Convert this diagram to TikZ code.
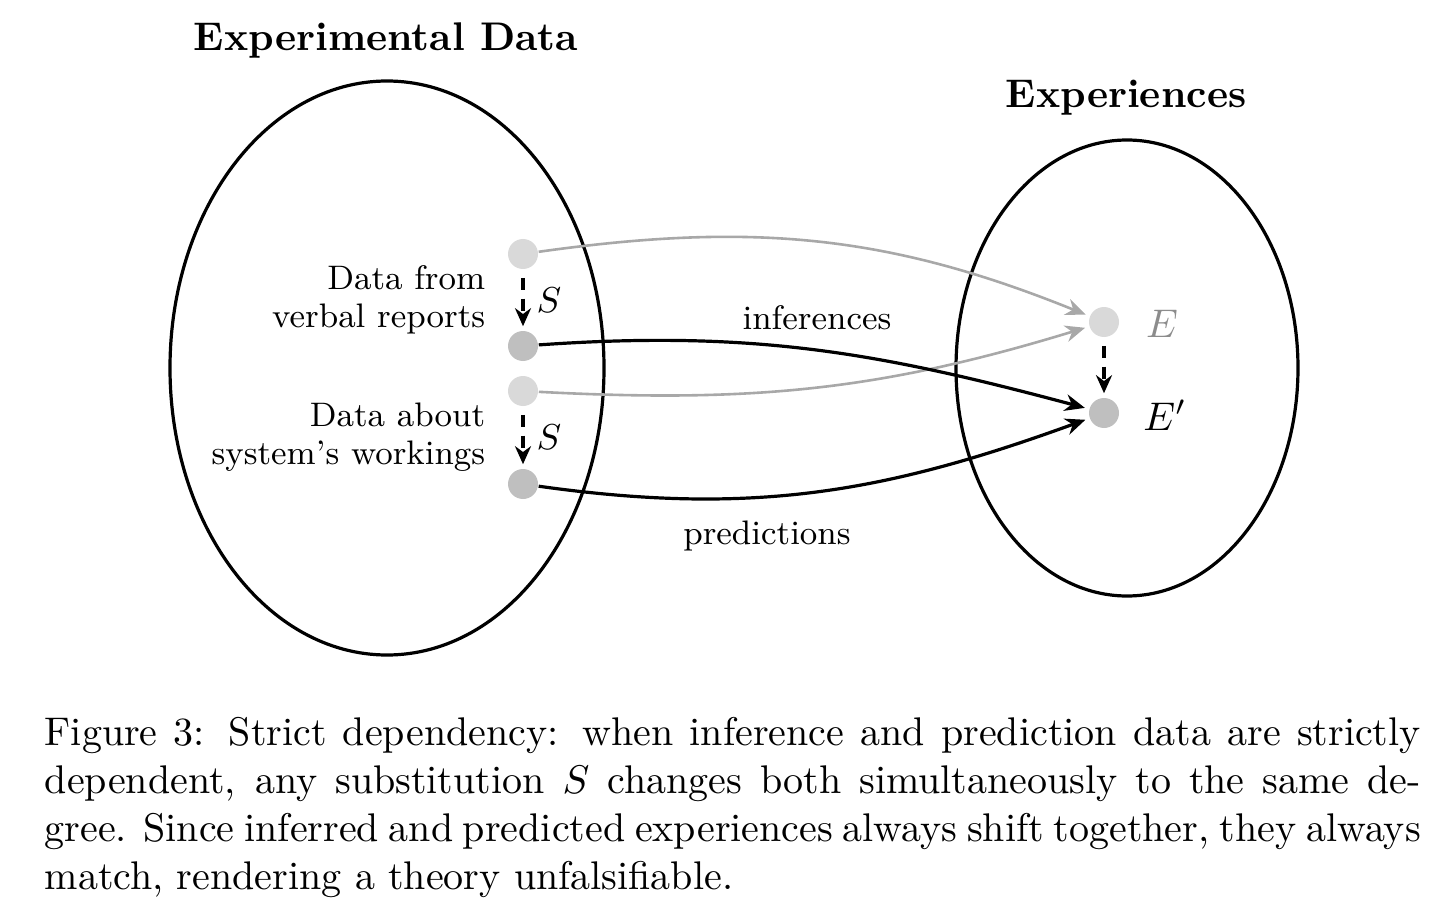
\documentclass[tikz,border=0pt]{standalone}
\usetikzlibrary{arrows.meta,shapes.geometric}
\definecolor{dotlight}{HTML}{D9D9D9}
\definecolor{dotdark}{HTML}{BFBFBF}
\definecolor{arrgray}{HTML}{A8A8A8}
\definecolor{labgray}{HTML}{8C8C8C}
\begin{document}
\begin{tikzpicture}[x=0.25pt,y=-0.25pt,
  setel/.style={draw,line width=0.8pt,ellipse,inner sep=0pt},
  dotl/.style={circle,fill=dotlight,inner sep=0pt,minimum size=7.5pt},
  dotd/.style={circle,fill=dotdark,inner sep=0pt,minimum size=7.5pt},
  grayarr/.style={draw=arrgray,line width=0.65pt,-{Stealth[length=5pt,width=4.2pt]},shorten >=1pt},
  blackarr/.style={draw=black,line width=0.8pt,-{Stealth[length=5pt,width=4.2pt]},shorten >=1pt},
  subarr/.style={draw=black,line width=0.8pt,dashed,dash pattern=on 3pt off 2.2pt,-{Stealth[length=4.5pt,width=4pt]},shorten >=1pt,shorten <=2pt},
  lab/.style={font=\fontsize{8.5}{9.5}\selectfont,inner sep=0pt},
  mlab/.style={font=\fontsize{9}{10}\selectfont,inner sep=0pt},
  title/.style={font=\bfseries,inner sep=0pt}]
\useasboundingbox (0,0) rectangle (1456,909);
% sets
\node[setel,minimum width=108.5pt,minimum height=143.5pt] (L) at (387,368) {};
\node[setel,minimum width=85.5pt,minimum height=114pt] (R) at (1127,368) {};
\node[title] (Lt) at (386,41) {Experimental Data};
\node[title] (Rt) at (1126,98) {Experiences};
% dots
\node[dotl] (a1) at (523,254) {};
\node[dotd] (a2) at (523,346) {};
\node[dotl] (b1) at (523,391) {};
\node[dotd] (b2) at (523,484) {};
\node[dotl] (e1) at (1104,322) {};
\node[dotd] (e2) at (1104,413) {};
% labels
\node[lab,anchor=east,align=right] (la) at (486,300) {Data from\\verbal reports};
\node[lab,anchor=east,align=right] (lb) at (486,437) {Data about\\system's workings};
\node[mlab] (sa) at (549,300) {$S$};
\node[mlab] (sb) at (549,437) {$S$};
\node[mlab,font=\fontsize{10}{12}\selectfont,text=labgray] (le) at (1162,324) {$E$};
\node[mlab,font=\fontsize{10}{12}\selectfont] (le2) at (1165,415) {$E'$};
\node[lab] (inf) at (817,318) {inferences};
\node[lab] (pred) at (767,536) {predictions};
% substitution arrows
\draw[subarr] (a1) -- (a2);
\draw[subarr] (b1) -- (b2);
\draw[subarr] (e1) -- (e2);
% inference/prediction arrows
\draw[grayarr] (a1) to[out=8,in=158] (e1);
\draw[grayarr] (b1) to[out=-3,in=197] (e1);
\draw[blackarr] (a2) to[out=4,in=165] (e2);
\draw[blackarr] (b2) to[out=-8,in=200] (e2);
% caption
\node[anchor=north west,inner sep=0pt,text width=344pt,align=justify,font=\normalsize] (cap) at (44,716)
{Figure 3: Strict dependency: when inference and prediction data are strictly dependent, any substitution $S$ changes both simultaneously to the same degree. Since inferred and predicted experiences always shift together, they always match, rendering a theory unfalsifiable.};
\end{tikzpicture}
\end{document}
